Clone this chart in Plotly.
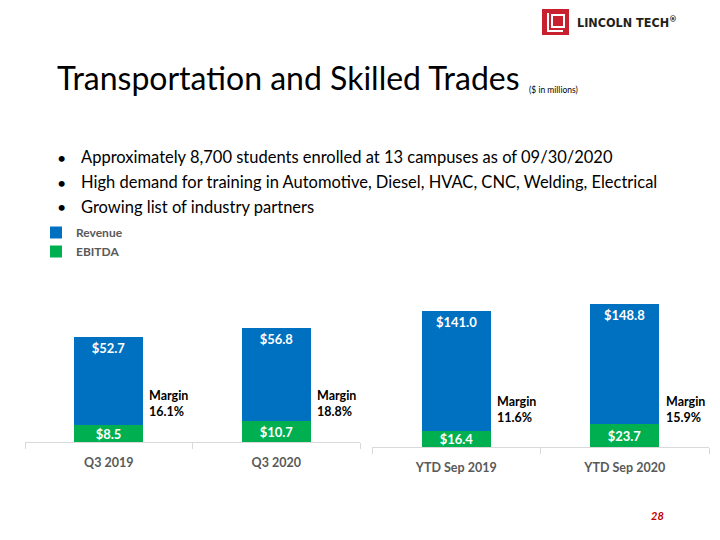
import plotly.graph_objects as go

# ---------------- data ----------------
q_categories = ["Q3 2019", "Q3 2020"]
q_revenue = [52.7, 56.8]
q_ebitda = [8.5, 10.7]
q_margin = ["16.1%", "18.8%"]

ytd_categories = ["YTD Sep 2019", "YTD Sep 2020"]
ytd_revenue = [141.0, 148.8]
ytd_ebitda = [16.4, 23.7]
ytd_margin = ["11.6%", "15.9%"]

bullets = [
    "Approximately 8,700 students enrolled at 13 campuses as of 09/30/2020",
    "High demand for training in Automotive, Diesel, HVAC, CNC, Welding, Electrical",
    "Growing list of industry partners",
]

BLUE = "#0070C0"
GREEN = "#00B050"
GRAY = "#595959"
AXIS = "#D9D9D9"
FONT = "Lato, 'Open Sans', sans-serif"
W, H = 720, 540


def px(x):
    return x / W


def py(y):
    return 1 - y / H


fig = go.Figure()


def add_chart(cats, rev, ebit, xa, ya, show):
    fig.add_trace(go.Bar(
        x=cats, y=rev, name="Revenue", marker=dict(color=BLUE, line=dict(width=0)),
        width=0.41, text=[f"${v:.1f}" for v in rev], textposition="inside",
        insidetextanchor="end", constraintext="none",
        textfont=dict(color="white", size=13, family=FONT, weight="bold"),
        xaxis=xa, yaxis=ya, showlegend=show, legendrank=1, hoverinfo="skip"))
    fig.add_trace(go.Bar(
        x=cats, y=ebit, name="EBITDA", marker=dict(color=GREEN, line=dict(width=0)),
        width=0.41, text=[f"${v:.1f}" for v in ebit], textposition="inside",
        insidetextanchor="middle", constraintext="none",
        textfont=dict(color="white", size=13, family=FONT, weight="bold"),
        xaxis=xa, yaxis=ya, showlegend=show, legendrank=2, hoverinfo="skip"))


add_chart(q_categories, q_revenue, q_ebitda, "x", "y", True)
add_chart(ytd_categories, ytd_revenue, ytd_ebitda, "x2", "y2", False)

xcommon = dict(type="category", range=[-0.5, 1.5], showline=True, linecolor=AXIS,
               linewidth=1, ticks="outside", tickson="boundaries", ticklen=6,
               tickcolor=AXIS, showgrid=False, zeroline=False, fixedrange=True,
               ticklabelstandoff=9,
               tickfont=dict(size=12.5, color=GRAY, family=FONT, weight="bold"))
ycommon = dict(visible=False, showgrid=False, zeroline=False, fixedrange=True)

fig.update_layout(
    width=W, height=H, margin=dict(l=0, r=0, t=0, b=0),
    paper_bgcolor="white", plot_bgcolor="white",
    barmode="overlay", bargap=0,
    xaxis=dict(domain=[px(25), px(360)], anchor="y", **xcommon),
    yaxis=dict(domain=[py(442), py(322)], range=[0, 60], **ycommon),
    xaxis2=dict(domain=[px(372), px(709)], anchor="y2", **xcommon),
    yaxis2=dict(domain=[py(447), py(293.4)], range=[0, 160], **ycommon),
    legend=dict(x=px(36), y=py(218), xanchor="left", yanchor="top",
                orientation="v", bgcolor="rgba(0,0,0,0)",
                font=dict(size=12, color=GRAY, family=FONT, weight="bold"),
                itemwidth=30, tracegroupgap=0, traceorder="normal"),
    showlegend=True,
)

ann = []
# margin labels
for i, m in enumerate(q_margin):
    ann.append(dict(x=i + 0.23, y=py(403), xref="x", yref="paper", xanchor="left",
                    yanchor="middle", align="left", showarrow=False,
                    text=f"Margin<br>{m}",
                    font=dict(size=12.5, color="black", family=FONT, weight="bold")))
for i, m in enumerate(ytd_margin):
    ann.append(dict(x=i + 0.23, y=py(409), xref="x2", yref="paper", xanchor="left",
                    yanchor="middle", align="left", showarrow=False,
                    text=f"Margin<br>{m}",
                    font=dict(size=12.5, color="black", family=FONT, weight="bold")))

# title
ann.append(dict(x=px(55), y=py(77), xref="paper", yref="paper", xanchor="left",
                yanchor="middle", showarrow=False,
                text="Transportation and Skilled Trades",
                font=dict(size=32, color="black", family=FONT)))
ann.append(dict(x=px(527), y=py(90), xref="paper", yref="paper", xanchor="left",
                yanchor="middle", showarrow=False, text="($ in millions)",
                font=dict(size=8.5, color="black", family=FONT)))

# bullets
for j, b in enumerate(bullets):
    yy = 157 + 25 * j
    ann.append(dict(x=px(55), y=py(yy), xref="paper", yref="paper", xanchor="left",
                    yanchor="middle", showarrow=False, text="•",
                    font=dict(size=16, color="black", family=FONT)))
    ann.append(dict(x=px(79), y=py(yy), xref="paper", yref="paper", xanchor="left",
                    yanchor="middle", showarrow=False, text=b,
                    font=dict(size=16.5, color="black", family=FONT)))

# logo text
ann.append(dict(x=px(575), y=py(22), xref="paper", yref="paper", xanchor="left",
                yanchor="middle", showarrow=False, text="LINCOLN TECH<sup>®</sup>",
                font=dict(size=12.5, color="#231F20",
                          family="'Liberation Sans Narrow', 'DejaVu Sans Condensed', sans-serif",
                          weight="bold")))
# page number
ann.append(dict(x=px(657), y=py(515), xref="paper", yref="paper", xanchor="center",
                yanchor="middle", showarrow=False, text="<b><i>28</i></b>",
                font=dict(size=11, color="#C00000", family=FONT)))

shapes = [
    dict(type="rect", xref="paper", yref="paper", x0=px(542), x1=px(569),
         y0=py(35), y1=py(9), fillcolor="#C8202F", line=dict(width=0)),
    dict(type="path", xref="paper", yref="paper",
         path=f"M {px(548)},{py(13)} L {px(548)},{py(31)} L {px(563)},{py(31)}",
         line=dict(color="white", width=2)),
    dict(type="rect", xref="paper", yref="paper", x0=px(552), x1=px(564),
         y0=py(27), y1=py(15), line=dict(color="white", width=2)),
]

fig.update_layout(annotations=ann, shapes=shapes)
fig.write_html("out.html", config={"displayModeBar": False},
               post_script="document.body.style.margin='0';document.body.style.overflow='hidden';")
